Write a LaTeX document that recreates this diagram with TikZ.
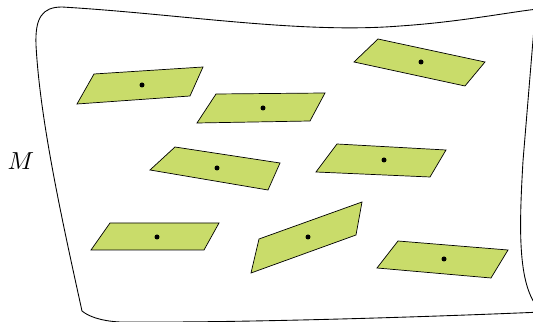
\documentclass[tikz,border=0pt]{standalone}
\usepackage{amsmath,amssymb}
\usepackage{tikz}
\definecolor{leafgreen}{RGB}{201,220,106}
\tikzset{
  plate/.style={draw=black,line width=0.6pt,fill=leafgreen,line join=miter},
  pin/.style={fill=black}
}

\begin{document}
\begin{tikzpicture}[x=0.3mm,y=-0.3mm]
\useasboundingbox (0,0) rectangle (533,322);
% the manifold
\draw[line width=0.75pt] (82,311) .. controls (62,220) and (40,120) .. (36,45)
  .. controls (35,18) and (42,7) .. (62,7)
  .. controls (180,14) and (300,34) .. (400,26)
  .. controls (460,22) and (510,12) .. (538,9)
  -- (534,28) -- (523,161)
  .. controls (519,230) and (517,290) .. (542,312)
  .. controls (450,316) and (250,323) .. (120,322)
  .. controls (100,321) and (88,316) .. (82,311) -- cycle;
\node[scale=2.1] (M) at (21,161) {$M$};
% tangent pieces
\draw[plate] (77,104) -- (94,74) -- (203,67) -- (190,96) -- cycle;
\fill[pin] (142,85) circle[radius=0.75mm];
\draw[plate] (197,123) -- (216,94) -- (325,93) -- (310,121) -- cycle;
\fill[pin] (263,108) circle[radius=0.75mm];
\draw[plate] (354,62) -- (378,39) -- (485,62) -- (465,86) -- cycle;
\fill[pin] (421,62) circle[radius=0.75mm];
\draw[plate] (150,170) -- (175,147) -- (280,163) -- (268,190) -- cycle;
\fill[pin] (217,168) circle[radius=0.75mm];
\draw[plate] (316,172) -- (337,144) -- (446,150) -- (430,177) -- cycle;
\fill[pin] (384,160) circle[radius=0.75mm];
\draw[plate] (91,250) -- (110,223) -- (219,223) -- (204,250) -- cycle;
\fill[pin] (157,237) circle[radius=0.75mm];
\draw[plate] (251,273) -- (259,239) -- (362,202) -- (356,235) -- cycle;
\fill[pin] (308,237) circle[radius=0.75mm];
\draw[plate] (377,268) -- (398,241) -- (508,250) -- (491,278) -- cycle;
\fill[pin] (444,259) circle[radius=0.75mm];
\end{tikzpicture}
\end{document}
